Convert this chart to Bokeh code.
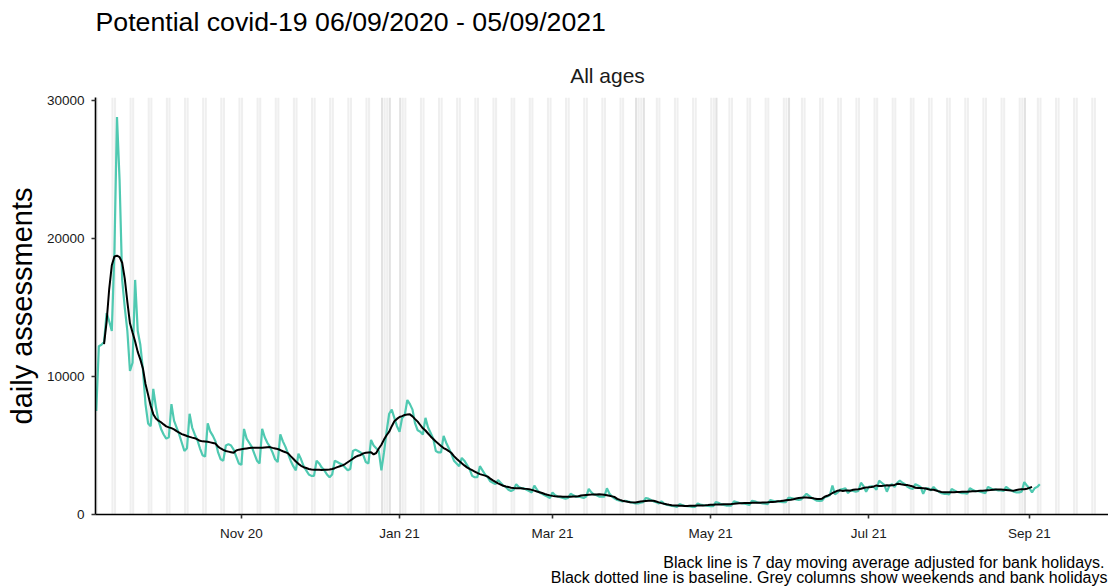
import pandas as pd
from bokeh.plotting import figure
from bokeh.layouts import column
from bokeh.models import Label, FixedTicker, DatetimeTickFormatter, Range1d, ColumnDataSource
from bokeh.embed import file_html
from bokeh.resources import INLINE

title_text = "Potential covid-19 06/09/2020 - 05/09/2021"
panel_text = "All ages"
y_label = "daily assessments"
caption_lines = [
    "Black line is 7 day moving average adjusted for bank holidays.",
    "Black dotted line is baseline. Grey columns show weekends and bank holidays",
]

first_day = "2020-09-06"
# one row per week, Sunday .. Saturday
daily_assessments = [
    7500, 12200, 12300, 12500, 14600, 14000, 13300,
    19000, 28800, 24200, 17000, 15000, 13300, 10400,
    11000, 17000, 13300, 12300, 10500, 8000, 6600,
    6400, 9100, 7800, 6800, 6200, 5800, 5500,
    5600, 8000, 6800, 6300, 5800, 5200, 4600,
    4800, 7300, 6300, 5800, 5400, 4800, 4300,
    4200, 6600, 6000, 5700, 5300, 4500, 4000,
    3900, 5000, 5100, 5000, 4700, 4200, 3700,
    3600, 6200, 5500, 5200, 4900, 4400, 3900,
    3700, 6200, 5600, 5200, 4900, 4500, 4000,
    3800, 5800, 5300, 4900, 4400, 3900, 3500,
    3200, 4400, 4000, 3500, 3200, 2900, 2800,
    2800, 3900, 3700, 3400, 3200, 2900, 2700,
    2900, 3900, 3800, 3700, 3600, 3400, 3200,
    3300, 4600, 4700, 4600, 4500, 4300, 3800,
    3700, 5400, 5000, 4800, 4600, 3200, 4500,
    6000, 7300, 7600, 7000, 6400, 6000, 7000,
    7200, 8300, 8000, 7600, 6600, 6100, 6000,
    5800, 7000, 6300, 5900, 5500, 4600, 4500,
    4500, 5700, 5200, 4800, 4400, 3900, 3700,
    3500, 4100, 3900, 3600, 3300, 2800, 2700,
    2700, 3500, 3200, 2900, 2700, 2400, 2300,
    2200, 2500, 2300, 2100, 2000, 1800, 1700,
    1800, 2200, 2000, 1900, 1900, 1800, 1700,
    1600, 2100, 1800, 1600, 1500, 1400, 1300,
    1200, 1600, 1400, 1300, 1250, 1200, 1150,
    1200, 1500, 1400, 1300, 1300, 1250, 1200,
    1300, 1850, 1600, 1450, 1400, 1300, 1300,
    1300, 1900, 1500, 1300, 1150, 1050, 1000,
    950, 1000, 950, 900, 850, 800, 800,
    850, 900, 1200, 1150, 1050, 950, 900,
    800, 950, 800, 700, 680, 620, 600,
    550, 750, 680, 630, 600, 580, 550,
    550, 800, 720, 680, 650, 620, 600,
    600, 900, 850, 750, 700, 650, 650,
    650, 950, 900, 850, 820, 780, 750,
    700, 1000, 950, 880, 850, 800, 780,
    750, 1050, 1000, 950, 950, 920, 900,
    900, 1200, 1200, 1150, 1100, 1050, 1100,
    1300, 1500, 1350, 1200, 1100, 1000, 980,
    1000, 1250, 1300, 1400, 2100, 1450, 1600,
    1800, 1850, 1900, 1550, 1750, 1700, 1650,
    1700, 2300, 2050, 1650, 2000, 2050, 2000,
    1800, 2450, 2300, 2150, 1650, 2100, 2200,
    2000, 2300, 2460, 2300, 2200, 2000, 1900,
    1850, 2200, 2100, 2000, 1500, 1900, 1900,
    1750, 2000, 1800, 1650, 1550, 1500, 1500,
    1450, 1850, 1750, 1650, 1600, 1550, 1550,
    1500, 1900, 1800, 1700, 1700, 1650, 1600,
    1550, 2000, 1900, 1800, 1800, 1750, 1750,
    1700, 2000, 1850, 1750, 1650, 1600, 1600,
    1650, 2350, 2100, 1900, 1600, 1900, 2000,
    2200,
]

bank_holidays = ["2020-12-25", "2020-12-28", "2021-01-01", "2021-04-02",
                 "2021-04-05", "2021-05-03", "2021-05-31", "2021-08-30"]
shade_first = "2020-09-05"
shade_last = "2021-10-03"

x_tick_dates = ["2020-11-01", "2021-01-01", "2021-03-01", "2021-05-01", "2021-07-01", "2021-09-01"]
y_ticks = [0, 10000, 20000, 30000]
x_view = ("2020-09-05 17:00", "2021-10-01 12:00")
y_view = (0, 30220)

FONT = "Liberation Sans"
TEAL = "#4fc9b1"
W = 1108
LEFT = 95
TOP_H, MAIN_H, CAP_H = 90, 455, 41

dates = pd.date_range(first_day, periods=len(daily_assessments), freq="D")
series = pd.Series(daily_assessments, index=dates, dtype=float)
ma7 = series.rolling(7, center=True).mean()

all_days = pd.date_range(shade_first, shade_last, freq="D")
weekend_days = all_days[all_days.dayofweek >= 5]
bh_days = pd.to_datetime(bank_holidays)

DAY = pd.Timedelta(days=1)
DAY_MS = 86400000


def text_strip(height, y_top):
    # strip whose data coordinates are page pixels (x right, y down)
    f = figure(width=W, height=height, output_backend="svg", toolbar_location=None,
               x_axis_location=None, y_axis_location=None,
               min_border_left=LEFT, min_border_right=0, min_border_top=0, min_border_bottom=0,
               x_range=Range1d(LEFT, W), y_range=Range1d(y_top + height, y_top))
    f.outline_line_color = None
    f.grid.grid_line_color = None
    f.background_fill_color = "white"
    f.border_fill_color = "white"
    return f


# heading strip (y = vertical centre of the capitals)
top = text_strip(TOP_H, 0)
top.add_layout(Label(x=95, y=21.5, text=title_text, text_font=FONT, text_font_size="26.7px",
                     text_color="black", text_align="left", text_baseline="alphabetic"))
top.add_layout(Label(x=607, y=74.5, text=panel_text, text_font=FONT, text_font_size="21px",
                     text_color="#1a1a1a", text_align="center", text_baseline="alphabetic"))

# main chart
p = figure(width=W, height=MAIN_H, x_axis_type="datetime", output_backend="svg",
           toolbar_location=None, min_border_left=LEFT, min_border_right=0,
           min_border_top=7, min_border_bottom=31,
           x_range=Range1d(pd.Timestamp(x_view[0]), pd.Timestamp(x_view[1])),
           y_range=Range1d(*y_view))
p.background_fill_color = "white"
p.border_fill_color = "white"
p.outline_line_color = None
p.grid.grid_line_color = None

shade_src = ColumnDataSource(dict(x=weekend_days + DAY * 0.25, top=[y_view[1] * 1.1] * len(weekend_days)))
p.vbar(x="x", top="top", bottom=0, width=0.8 * DAY_MS, source=shade_src,
       fill_color="#efefef", line_color=None)
bh_src = ColumnDataSource(dict(x=bh_days + DAY * 0.25, top=[y_view[1] * 1.1] * len(bh_days)))
p.vbar(x="x", top="top", bottom=0, width=0.8 * DAY_MS, source=bh_src,
       fill_color="#e2e2e2", line_color=None)

p.line(dates, series.values, line_color=TEAL, line_width=2.2)
p.line(dates, ma7.values, line_color="black", line_width=2)

p.xaxis.ticker = FixedTicker(ticks=[pd.Timestamp(d).value // 10**6 for d in x_tick_dates])
p.xaxis.formatter = DatetimeTickFormatter(days="%b %y", months="%b %y", years="%b %y",
                                          hours="%b %y", hourmin="%b %y")
p.yaxis.ticker = FixedTicker(ticks=y_ticks)

for ax in (p.xaxis, p.yaxis):
    ax.axis_line_color = "black"
    ax.axis_line_width = 1.6
    ax.major_tick_line_color = "#333333"
    ax.major_tick_line_width = 1.6
    ax.major_tick_out = 4
    ax.major_tick_in = 0
    ax.minor_tick_line_color = None
    ax.major_label_text_font = FONT
    ax.major_label_text_font_size = "13.5px"
    ax.major_label_text_color = "#1a1a1a"
    ax.major_label_standoff = 7

p.yaxis.axis_label = y_label
p.yaxis.axis_label_text_font = FONT
p.yaxis.axis_label_text_font_size = "29px"
p.yaxis.axis_label_text_font_style = "normal"
p.yaxis.axis_label_text_color = "black"
p.yaxis.axis_label_standoff = 6

# caption strip
cap_top = TOP_H + MAIN_H
cap = text_strip(CAP_H, cap_top)
cap.add_layout(Label(x=1104, y=561.7, text=caption_lines[0], text_font=FONT, text_font_size="16px",
                     text_color="black", text_align="right", text_baseline="alphabetic"))
cap.add_layout(Label(x=1107, y=576.7, text=caption_lines[1], text_font=FONT, text_font_size="16px",
                     text_color="black", text_align="right", text_baseline="alphabetic"))

layout = column(top, p, cap, spacing=0)
open("out.html", "w").write(file_html(layout, INLINE))
